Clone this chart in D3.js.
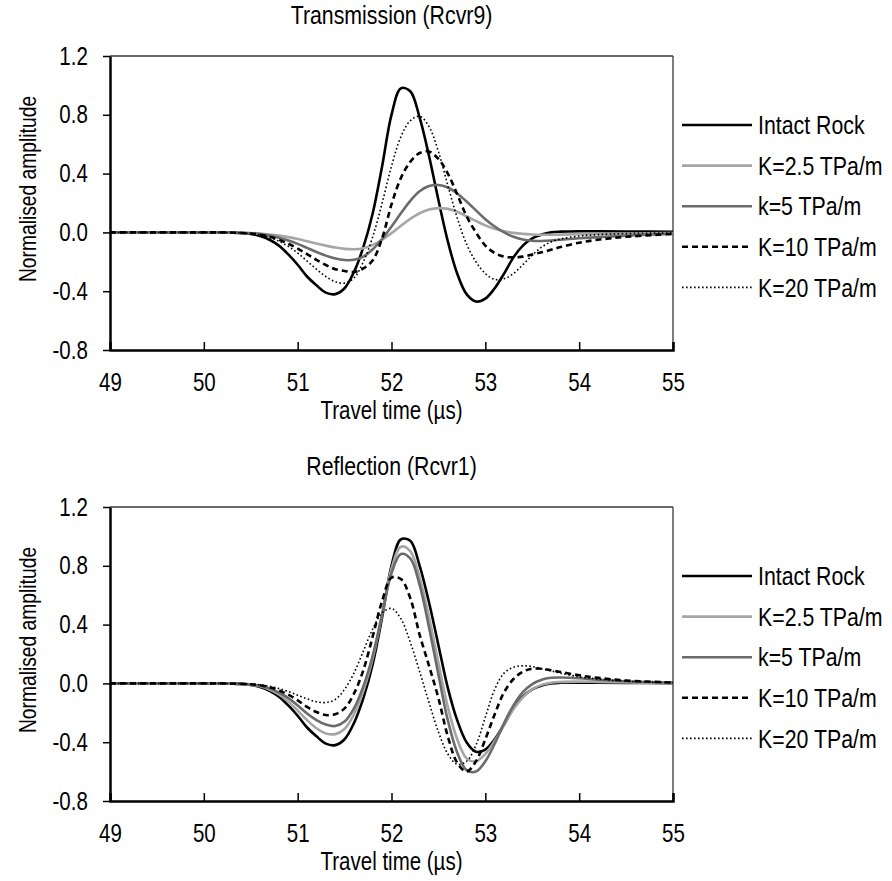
<!DOCTYPE html>
<html>
<head>
<meta charset="utf-8">
<script src="https://cdn.jsdelivr.net/npm/d3@7"></script>
<style>
  html, body { margin: 0; padding: 0; background: #fff; }
  svg { display: block; }
  text { font-family: "Liberation Sans Narrow", "Arial Narrow", "Liberation Sans", Arial, sans-serif; fill: #000; }
</style>
</head>
<body>
<svg id="chart" width="892" height="881"></svg>
<script>
// ---------------- DATA ----------------
const seriesNames = ["Intact Rock", "K=2.5 TPa/m", "k=5 TPa/m", "K=10 TPa/m", "K=20 TPa/m"];
const panelTitles = ["Transmission (Rcvr9)", "Reflection (Rcvr1)"];
const xTicks = [49, 50, 51, 52, 53, 54, 55];
const yTicks = [-0.8, -0.4, 0.0, 0.4, 0.8, 1.2];
const xLabel = "Travel time (\u00b5s)";
const yLabel = "Normalised amplitude";

// travel time samples (µs)
const times = [49, 49.5, 50, 50.2, 50.4, 50.5, 50.6, 50.7, 50.8, 50.9,
  51.0, 51.1, 51.2, 51.3, 51.4, 51.5, 51.6, 51.7, 51.8, 51.9,
  52.0, 52.1, 52.2, 52.3, 52.4, 52.5, 52.6, 52.7, 52.8, 52.9,
  53.0, 53.1, 53.2, 53.3, 53.4, 53.5, 53.6, 53.7, 53.8, 54.0,
  54.2, 54.5, 55];

// Transmission (Rcvr9)
const transIntact = [0, 0, 0, 0, -0.004, -0.01, -0.025, -0.05, -0.09, -0.15,
  -0.22, -0.30, -0.36, -0.41, -0.42, -0.38, -0.27, -0.10, 0.13, 0.45,
  0.80, 0.98, 0.96, 0.78, 0.52, 0.22, -0.06, -0.28, -0.42, -0.47,
  -0.45, -0.38, -0.28, -0.17, -0.09, -0.04, -0.015, 0, 0.005, 0.008,
  0.008, 0.006, 0.004];
const transK25 = [0, 0, 0, 0, -0.002, -0.004, -0.008, -0.014, -0.022, -0.032,
  -0.045, -0.06, -0.075, -0.09, -0.103, -0.112, -0.115, -0.108, -0.085, -0.05,
  -0.005, 0.045, 0.092, 0.13, 0.155, 0.165, 0.16, 0.14, 0.11, 0.078,
  0.048, 0.024, 0.008, -0.003, -0.01, -0.014, -0.016, -0.016, -0.015, -0.013,
  -0.01, -0.007, -0.004];
const transK5 = [0, 0, 0, 0, -0.003, -0.006, -0.012, -0.022, -0.036, -0.055,
  -0.078, -0.105, -0.133, -0.158, -0.177, -0.188, -0.186, -0.165, -0.115, -0.045,
  0.04, 0.13, 0.215, 0.28, 0.315, 0.322, 0.305, 0.265, 0.21, 0.15,
  0.09, 0.04, 0.0, -0.03, -0.048, -0.057, -0.058, -0.055, -0.05, -0.04,
  -0.032, -0.022, -0.01];
const transK10 = [0, 0, 0, 0, -0.004, -0.008, -0.016, -0.03, -0.05, -0.077,
  -0.11, -0.148, -0.187, -0.222, -0.25, -0.262, -0.27, -0.245, -0.19, -0.04,
  0.19, 0.37, 0.48, 0.54, 0.55, 0.5, 0.4, 0.26, 0.11, 0.0,
  -0.09, -0.14, -0.165, -0.17, -0.165, -0.15, -0.135, -0.118, -0.1, -0.07,
  -0.05, -0.03, -0.01];
const transK20 = [0, 0, 0, 0, -0.004, -0.009, -0.018, -0.035, -0.06, -0.095,
  -0.14, -0.195, -0.25, -0.3, -0.335, -0.345, -0.31, -0.2, -0.03, 0.2,
  0.45, 0.65, 0.76, 0.79, 0.72, 0.55, 0.32, 0.1, -0.08, -0.2,
  -0.28, -0.32, -0.315, -0.28, -0.22, -0.155, -0.1, -0.065, -0.045, -0.025,
  -0.015, -0.008, -0.003];

// Reflection (Rcvr1)
const reflIntact = [0, 0, 0, 0, -0.004, -0.01, -0.025, -0.05, -0.09, -0.15,
  -0.22, -0.30, -0.36, -0.41, -0.42, -0.38, -0.27, -0.10, 0.13, 0.45,
  0.80, 0.98, 0.97, 0.80, 0.55, 0.26, -0.03, -0.25, -0.40, -0.465,
  -0.45, -0.38, -0.28, -0.17, -0.09, -0.04, -0.015, 0, 0.004, 0.005,
  0.004, 0.003, 0.002];
const reflK25 = [0, 0, 0, 0, -0.004, -0.009, -0.02, -0.042, -0.075, -0.125,
  -0.185, -0.25, -0.305, -0.34, -0.345, -0.31, -0.21, -0.05, 0.17, 0.47,
  0.78, 0.93, 0.9, 0.72, 0.45, 0.14, -0.16, -0.38, -0.51, -0.53,
  -0.48, -0.39, -0.28, -0.175, -0.095, -0.04, -0.01, 0.005, 0.01, 0.012,
  0.01, 0.006, 0.003];
const reflK5 = [0, 0, 0, 0, -0.003, -0.007, -0.016, -0.034, -0.062, -0.1,
  -0.15, -0.205, -0.25, -0.28, -0.29, -0.26, -0.17, -0.02, 0.19, 0.47,
  0.75, 0.88, 0.85, 0.67, 0.38, 0.06, -0.25, -0.47, -0.59, -0.6,
  -0.53, -0.41, -0.27, -0.15, -0.06, -0.005, 0.025, 0.038, 0.04, 0.035,
  0.025, 0.015, 0.006];
const reflK10 = [0, 0, 0, 0, -0.003, -0.006, -0.013, -0.026, -0.047, -0.077,
  -0.115, -0.16, -0.195, -0.215, -0.21, -0.17, -0.07, 0.09, 0.32, 0.56,
  0.72, 0.71, 0.58, 0.33, 0.12, -0.1, -0.36, -0.54, -0.6, -0.53,
  -0.38, -0.21, -0.06, 0.03, 0.08, 0.1, 0.1, 0.09, 0.078, 0.055,
  0.038, 0.02, 0.006];
const reflK20 = [0, 0, 0, 0, -0.002, -0.005, -0.01, -0.02, -0.035, -0.055,
  -0.08, -0.105, -0.125, -0.13, -0.11, -0.04, 0.07, 0.22, 0.37, 0.48,
  0.51, 0.44, 0.28, 0.08, -0.13, -0.33, -0.48, -0.55, -0.53, -0.42,
  -0.23, -0.04, 0.07, 0.11, 0.12, 0.115, 0.1, 0.085, 0.07, 0.045,
  0.03, 0.015, 0.005];

// ---------------- STYLES ----------------
const styles = [
  { color: "#000000", width: 2.6, dash: null },
  { color: "#a6a6a6", width: 2.6, dash: null },
  { color: "#6b6b6b", width: 2.6, dash: null },
  { color: "#000000", width: 2.6, dash: "6,4" },
  { color: "#000000", width: 1.6, dash: "1.6,2.4" }
];

const panels = [
  { title: panelTitles[0], top: 56, bottom: 350, data: [transIntact, transK25, transK5, transK10, transK20] },
  { title: panelTitles[1], top: 507, bottom: 801, data: [reflIntact, reflK25, reflK5, reflK10, reflK20] }
];

const left = 110, right = 673;
const svg = d3.select("#chart");
const FONT = 25;
const TITLE_FONT = 26;
const LEG_FONT = 26;
const YLAB_FONT = 23.5;
const SX = 0.82; // condensed look (narrow font emulation)

panels.forEach((p, pi) => {
  const x = d3.scaleLinear().domain([49, 55]).range([left, right]);
  const y = d3.scaleLinear().domain([-0.8, 1.2]).range([p.bottom, p.top]);
  const g = svg.append("g");

  // title
  g.append("text")
    .attr("transform", `translate(${(left + right) / 2},${p.top - 32}) scale(${SX},1)`)
    .attr("text-anchor", "middle")
    .attr("font-size", TITLE_FONT)
    .text(p.title);

  // thin frame top/right
  g.append("line").attr("x1", left).attr("x2", right).attr("y1", p.top).attr("y2", p.top)
    .attr("stroke", "#3a3a3a").attr("stroke-width", 1.3);
  g.append("line").attr("x1", right).attr("x2", right).attr("y1", p.top).attr("y2", p.bottom)
    .attr("stroke", "#3a3a3a").attr("stroke-width", 1.3);

  // series
  const line = d3.line()
    .x((d, i) => x(times[i]))
    .y(d => y(d))
    .curve(d3.curveCatmullRom.alpha(0.5));

  p.data.forEach((vals, si) => {
    const s = styles[si];
    g.append("path")
      .datum(vals)
      .attr("d", line)
      .attr("fill", "none")
      .attr("stroke", s.color)
      .attr("stroke-width", s.width)
      .attr("stroke-dasharray", s.dash)
      .attr("stroke-linejoin", "round");
  });

  // x axis (ticks inward)
  const xAxis = d3.axisBottom(x).tickValues(xTicks).tickSize(-8).tickPadding(23)
    .tickFormat(d => String(d));
  const gx = g.append("g").attr("transform", `translate(0,${p.bottom})`).call(xAxis);
  gx.select(".domain").attr("stroke", "#000").attr("stroke-width", 2.5);
  gx.selectAll(".tick line").attr("stroke", "#000").attr("stroke-width", 1.5);
  gx.selectAll(".tick text").attr("font-size", FONT).attr("font-family", null)
    .attr("transform", `scale(${SX},1)`);

  // y axis (ticks outward)
  const yAxis = d3.axisLeft(y).tickValues(yTicks).tickSize(7).tickSizeOuter(0).tickPadding(20)
    .tickFormat(d => d.toFixed(1));
  const gy = g.append("g").attr("transform", `translate(${left},0)`).call(yAxis);
  gy.select(".domain").attr("stroke", "#000").attr("stroke-width", 2.5);
  gy.selectAll(".tick line").attr("stroke", "#000").attr("stroke-width", 1.5);
  gy.selectAll(".tick text").attr("font-size", FONT).attr("font-family", null)
    .attr("transform", `scale(${SX},1)`);

  // axis titles
  g.append("text")
    .attr("transform", `translate(${(left + right) / 2},${p.bottom + 69}) scale(${SX},1)`)
    .attr("text-anchor", "middle")
    .attr("font-size", FONT)
    .text(xLabel);
  g.append("text")
    .attr("transform", `translate(36,${(p.top + p.bottom) / 2 - 14}) rotate(-90) scale(${SX},1)`)
    .attr("text-anchor", "middle")
    .attr("font-size", YLAB_FONT)
    .text(yLabel);

  // legend
  const legTop = p.top + 69;
  const legStep = 40.6;
  seriesNames.forEach((name, si) => {
    const s = styles[si];
    const ly = legTop + si * legStep;
    g.append("line")
      .attr("x1", 682).attr("x2", 752).attr("y1", ly).attr("y2", ly)
      .attr("stroke", s.color).attr("stroke-width", s.width)
      .attr("stroke-dasharray", s.dash);
    g.append("text")
      .attr("transform", `translate(758,${ly}) scale(${SX},1)`)
      .attr("dy", "0.35em")
      .attr("font-size", LEG_FONT)
      .text(name);
  });
});
</script>
</body>
</html>
